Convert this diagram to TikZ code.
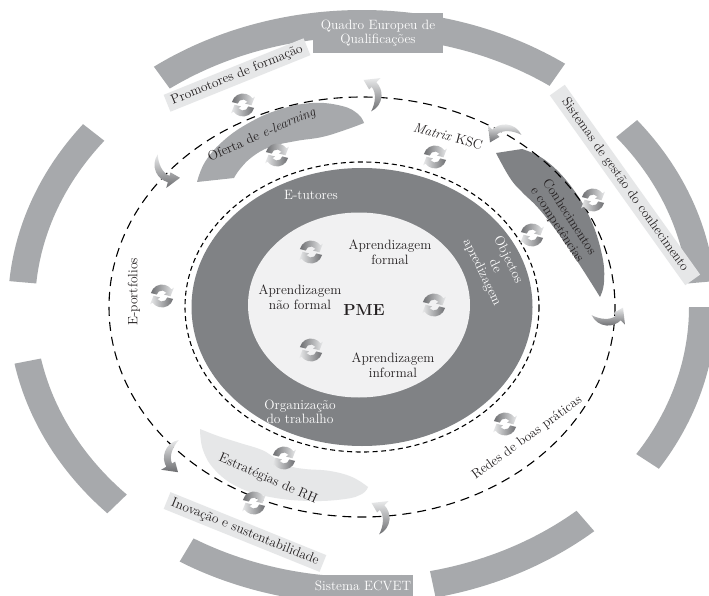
\documentclass[tikz,border=0pt]{standalone}
\usetikzlibrary{calc}
\definecolor{bandgray}{HTML}{A7A9AC}
\definecolor{boxlight}{HTML}{E6E7E8}
\definecolor{ringdark}{HTML}{808285}
\definecolor{corelight}{HTML}{F1F1F2}
\definecolor{ink}{HTML}{231F20}
\definecolor{icongray}{HTML}{6D6E71}
\definecolor{iconpale}{HTML}{E9EAEB}
% one segment of the outer elliptical ring, between two parametric angles
\newcommand\ringseg[2]{%
  \fill[bandgray] (#1:354 and 297) arc[start angle=#1,end angle=#2,x radius=354,y radius=297]
    -- (#2:327 and 270) arc[start angle=#2,end angle=#1,x radius=327,y radius=270] -- cycle;}
\tikzset{
  lbl/.style={font=\fontsize{13.5}{14.5}\selectfont, text=ink},
  wlbl/.style={font=\fontsize{13.5}{14.5}\selectfont, text=white},
  lbox/.style={lbl, fill=boxlight, inner xsep=5pt, inner ysep=3pt},
  dbox/.style={wlbl, fill=bandgray, inner sep=2pt, align=center},
  dashout/.style={line width=1.1pt, dash pattern=on 9pt off 6pt},
  dashin/.style={line width=1.1pt, dash pattern=on 5pt off 3.5pt},
  % two curved arrows chasing each other
  pics/cyc/.style={code={
    \shade[left color=icongray, right color=iconpale]
      (-165:11.5) arc[start angle=-165,end angle=-35,radius=11.5] -- (-35:14.5) -- (2:8.5)
      -- (-35:2.5) -- (-35:5.5) arc[start angle=-35,end angle=-165,radius=5.5] -- cycle;
    \shade[left color=iconpale, right color=icongray]
      (15:11.5) arc[start angle=15,end angle=145,radius=11.5] -- (145:14.5) -- (182:8.5)
      -- (145:2.5) -- (145:5.5) arc[start angle=145,end angle=15,radius=5.5] -- cycle;
  }},
  % a single crescent arrow
  pics/bend/.style={code={
    \begin{scope}[shift={(-12,0)}]
    \shade[top color=iconpale, bottom color=icongray]
      (-65:15) arc[start angle=-65,end angle=45,radius=15] -- (45:20) -- (90:12.5)
      -- (45:6.5) -- (45:9.5) .. controls (10:11) and (-35:12) .. (-65:15) -- cycle;
    \end{scope}
  }},
}
\begin{document}
\begin{tikzpicture}[x=1pt,y=-1pt]
\useasboundingbox (0,0) rectangle (709,596);
\clip (0,0) rectangle (709,596);
\fill[white] (0,0) rectangle (709,596);

% outer ring, broken into segments
\begin{scope}[shift={(362,307)}]
  \ringseg{-126}{-55}
  \ringseg{-39}{-5}
  \ringseg{0}{33}
  \ringseg{49}{78}
  \ringseg{83}{121}
  \ringseg{136}{169}
  \ringseg{185}{218}
\end{scope}

% labels on the outer ring
\node[lbox, rotate=22] (promo) at (237,75) {Promotores de formação};
\node[lbox, rotate=-54.5, inner xsep=12pt] (sgc) at (625,185) {Sistemas de gestão do conhecimento};
\node[lbox, rotate=-22] (inov) at (245,532) {Inovação e sustentabilidade};
\node[dbox, minimum width=130pt, minimum height=40pt] (qeq) at (378,33) {Quadro Europeu de\\Qualificações};
\node[dbox, minimum width=100pt, minimum height=22pt] (ecvet) at (363,586) {Sistema ECVET};

% curved bands between the two dashed rings
\fill[bandgray] plot[smooth, tension=0.7] coordinates {(197,182) (205,162) (222,142) (247,124) (278,110) (312,103) (342,106) (358,114) (364,123)}
  -- plot[smooth, tension=0.7] coordinates {(364,123) (345,130) (322,137) (296,141) (270,147) (252,157) (240,169) (234,178)} -- cycle;
\fill[ringdark] plot[smooth, tension=0.7] coordinates {(522,149) (545,160) (570,185) (590,218) (602,255) (604,282) (600,297)}
  -- plot[smooth, tension=0.7] coordinates {(600,297) (583,270) (563,240) (540,210) (522,192) (510,178) (496,153)} -- cycle;
\fill[boxlight] plot[smooth, tension=0.7] coordinates {(200,429) (203,450) (215,470) (238,487) (270,497) (310,501) (345,499) (362,494) (368,487)}
  -- plot[smooth, tension=0.7] coordinates {(368,487) (352,477) (330,471) (305,469) (290,466) (275,458) (262,450) (240,443) (218,436) (200,429)} -- cycle;

% dashed rings
\draw[dashout] (362,307) ellipse[x radius=253, y radius=210];
\draw[dashin] (362,307) ellipse[x radius=177, y radius=145];

% core
\fill[ringdark] (362,307) ellipse[x radius=170.5, y radius=139];
\fill[corelight] (359,305) ellipse[x radius=111, y radius=92.5];

% texts
\node[lbl, align=center] (af) at (390,252) {Aprendizagem\\formal};
\node[lbl, align=center] (anf) at (300,297) {Aprendizagem\\não formal};
\node[text=ink, font=\bfseries\fontsize{16}{18}\selectfont] (pme) at (364,310) {PME};
\node[lbl, align=center] (ainf) at (393,365) {Aprendizagem\\informal};
\node[wlbl] (etut) at (311,195) {E-tutores};
\node[wlbl, align=center, rotate=-64] (obj) at (495,266) {Objectos\\de\\apredizagem};
\node[wlbl, align=center] (org) at (300,412) {Organização\\do trabalho};
\node[lbl, rotate=-15] (ksc) at (448,136) {\textit{Matrix} KSC};
\node[lbl, rotate=24] (ofe) at (262,135) {Oferta de \textit{e-learning}};
\node[lbl, rotate=-57, align=center] (conh) at (563,221) {Conhecimentos\\e competências};
\node[lbl, rotate=90] (eport) at (134,292) {E-portfolios};
\node[lbl, rotate=36] (redes) at (527,438) {Redes de boas práticas};
\node[lbl, rotate=-23.5] (estr) at (268,479) {Estratégias de RH};

% cycle icons
\pic (c1) at (243,105) {cyc};
\pic (c2) at (277,155) {cyc};
\pic (c3) at (435,157) {cyc};
\pic (c4) at (311,252) {cyc};
\pic (c5) at (434,305) {cyc};
\pic (c6) at (311,350) {cyc};
\pic (c7) at (162,296) {cyc};
\pic (c8) at (532,235) {cyc};
\pic (c9) at (593,200) {cyc};
\pic (c10) at (505,424) {cyc};
\pic (c11) at (284,458) {cyc};
\pic (c12) at (254,503) {cyc};

% single arrows on the outer dashed ring
\pic[scale=1.2, yscale=-1] (ba) at (378,95) {bend};
\pic[scale=1.2, rotate=-90, xscale=-1] (bb) at (505,128) {bend};
\pic[scale=1.2, rotate=30, xscale=-1] (bc) at (160,172) {bend};
\pic[scale=1.2, xscale=-1, rotate=-90] (bd) at (608,322) {bend};
\pic[scale=1.2, rotate=-15, xscale=-1] (be) at (168,454) {bend};
\pic[scale=1.2, yscale=-1] (bf) at (386,518) {bend};
\end{tikzpicture}
\end{document}
